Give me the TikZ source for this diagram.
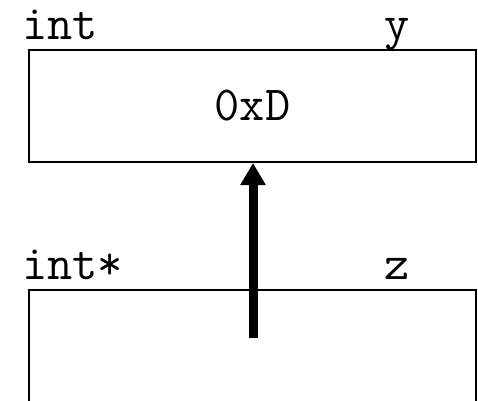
\documentclass[tikz,border=0pt]{standalone}
\usepackage{tikz}
\usetikzlibrary{arrows.meta}
\tikzset{every node/.append style={font=\ttfamily\fontsize{49}{53}\selectfont}}

\begin{document}
\begin{tikzpicture}[x=1pt, y=-1pt, >={Triangle[length=22pt, width=24pt]}]
    \useasboundingbox (0,0) rectangle (478,400);
    \clip (0,0) rectangle (478,400);
    % variable y
    \node[draw, line width=2pt, minimum width=447pt, minimum height=112pt, inner sep=0pt] (yBox) at (252.5,106) {0xD};
    \node[anchor=base west, inner sep=0pt] (yType) at (22,39) {int};
    \node[anchor=base west, inner sep=0pt] (yName) at (384,39) {y};
    % variable z
    \node[draw, line width=2pt, minimum width=447pt, minimum height=130pt, inner sep=0pt] (zBox) at (252.5,355) {};
    \node[anchor=base west, inner sep=0pt] (zType) at (22,279) {int*};
    \node[anchor=base west, inner sep=0pt] (zName) at (384,279) {z};
    % pointer
    \coordinate (zPtr) at (253,338);
    \draw[->, line width=9pt] (zPtr) -- (yBox.south -| zPtr);
\end{tikzpicture}
\end{document}
